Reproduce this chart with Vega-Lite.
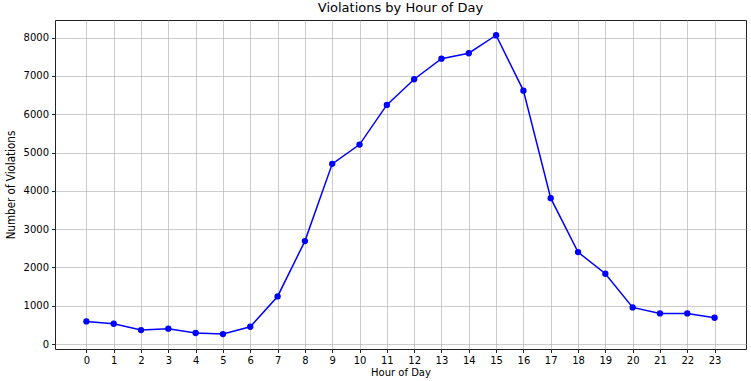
{
  "$schema": "https://vega.github.io/schema/vega-lite/v6.json",
  "autosize": {"type": "none"},
  "padding": {"left": 55, "top": 20, "right": 5, "bottom": 32},
  "width": 691,
  "height": 329,
  "background": "white",
  "title": {
    "text": "Violations by Hour of Day",
    "font": "DejaVu Sans",
    "fontSize": 13,
    "fontWeight": "normal",
    "color": "black",
    "anchor": "middle",
    "frame": "group",
    "baseline": "bottom",
    "offset": 4,
    "dy": 12
  },
  "config": {
    "view": {"stroke": "#222222", "strokeWidth": 1},
    "axis": {
      "labelFont": "DejaVu Sans",
      "labelFontSize": 10,
      "labelColor": "black",
      "titleFont": "DejaVu Sans",
      "titleFontSize": 10,
      "titleFontWeight": "normal",
      "titleColor": "black",
      "grid": true,
      "gridColor": "#b0b0b0",
      "gridOpacity": 0.65,
      "gridWidth": 1,
      "domain": false,
      "tickColor": "#222222",
      "tickSize": 3.5,
      "labelPadding": 3
    }
  },
  "data": {
    "values": [
      {"hour": 0, "count": 590},
      {"hour": 1, "count": 530},
      {"hour": 2, "count": 365},
      {"hour": 3, "count": 400},
      {"hour": 4, "count": 287},
      {"hour": 5, "count": 260},
      {"hour": 6, "count": 450},
      {"hour": 7, "count": 1242},
      {"hour": 8, "count": 2687},
      {"hour": 9, "count": 4704},
      {"hour": 10, "count": 5208},
      {"hour": 11, "count": 6243},
      {"hour": 12, "count": 6913},
      {"hour": 13, "count": 7451},
      {"hour": 14, "count": 7592},
      {"hour": 15, "count": 8062},
      {"hour": 16, "count": 6616},
      {"hour": 17, "count": 3809},
      {"hour": 18, "count": 2400},
      {"hour": 19, "count": 1834},
      {"hour": 20, "count": 955},
      {"hour": 21, "count": 798},
      {"hour": 22, "count": 798},
      {"hour": 23, "count": 686}
    ]
  },
  "encoding": {
    "x": {
      "field": "hour",
      "type": "quantitative",
      "scale": {"domain": [-1.15, 24.15], "nice": false, "zero": false},
      "axis": {
        "values": [0,1,2,3,4,5,6,7,8,9,10,11,12,13,14,15,16,17,18,19,20,21,22,23],
        "format": "d",
        "title": "Hour of Day",
        "titleX": 345.5,
        "titleY": 23,
        "titleAlign": "center",
        "titleBaseline": "middle"
      }
    },
    "y": {
      "field": "count",
      "type": "quantitative",
      "scale": {"domain": [-130, 8460], "nice": false, "zero": false},
      "axis": {
        "values": [0,1000,2000,3000,4000,5000,6000,7000,8000],
        "format": "d",
        "title": "Number of Violations",
        "titleFont": "DejaVu Sans Condensed",
        "titleFontSize": 11.5,
        "titleAngle": -90,
        "titleX": -44,
        "titleY": 164.5,
        "titleAlign": "center",
        "titleBaseline": "middle"
      }
    }
  },
  "layer": [
    {"mark": {"type": "line", "color": "#0000ff", "strokeWidth": 1.5}},
    {"mark": {"type": "point", "filled": true, "color": "#0000ff", "opacity": 1, "size": 40}}
  ]
}
